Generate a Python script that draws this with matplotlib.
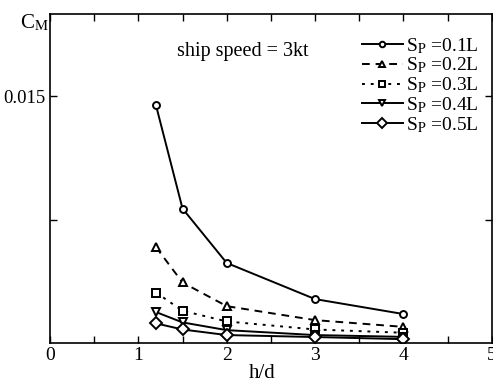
import numpy as np
import matplotlib
matplotlib.use("Agg")
import matplotlib.pyplot as plt

# Datos
h_d = [1.2, 1.5, 2.0, 3.0, 4.0]
cm_01 = [0.01445, 0.00817, 0.00486, 0.00266, 0.00175]
cm_02 = [0.00582, 0.00367, 0.00223, 0.00138, 0.00097]
cm_03 = [0.00306, 0.00195, 0.00130, 0.00081, 0.00061]
cm_04 = [0.00187, 0.00124, 0.00077, 0.00047, 0.00036]
cm_05 = [0.00118, 0.00081, 0.00047, 0.00035, 0.00022]
labels = ["0.1L", "0.2L", "0.3L", "0.4L", "0.5L"]

plt.rcParams['font.family'] = ['Liberation Serif', 'DejaVu Serif']
plt.rcParams['mathtext.fontset'] = 'stix'

fig = plt.figure(figsize=(4.93, 3.83), dpi=100)
ax = fig.add_axes([0.1014, 0.105, 0.896, 0.858])

series = [cm_01, cm_02, cm_03, cm_04, cm_05]
styles = [('-', 'o', 5), ((0, (4, 3)), '^', 6), ((0, (1.5, 3)), 's', 5.5),
          ('-', 'v', 6), ('-', 'D', 6)]
for vals, lab, (ls, mk, ms) in zip(series, labels, styles):
    ax.plot(h_d, vals, linestyle=ls, marker=mk, markersize=ms, color='black',
            markerfacecolor='white', markeredgewidth=1.4, linewidth=1.4,
            label=r"S$_\mathrm{P}$ =" + lab)

ax.set_xlim(0, 5)
ax.set_ylim(0, 0.02)
ax.set_xticks([0, 1, 2, 3, 4, 5])
ax.set_xticks([0.5, 1.5, 2.5, 3.5, 4.5], minor=True)
ax.set_yticks([0.0075, 0.015])
ax.set_yticklabels(['', '0.015'])
ax.tick_params(direction='in', which='both', top=True, right=True, labelsize=14,
               width=1, length=5, pad=3)
ax.tick_params(axis='y', labelsize=13.5)
ax.tick_params(which='minor', length=5)
for s in ax.spines.values():
    s.set_linewidth(1.2)

ax.set_xlabel('h/d', fontsize=15, labelpad=0)
ax.xaxis.set_label_coords(0.48, -0.065)
fig.text(0.04, 0.925, r"C$_\mathrm{M}$", fontsize=15)
ax.text(0.287, 0.873, 'ship speed = 3kt', transform=ax.transAxes, fontsize=14.5)

ax.legend(loc='upper right', bbox_to_anchor=(1.0, 0.972), frameon=False,
          fontsize=14, handlelength=2.1, handletextpad=0.2, labelspacing=0.0,
          borderaxespad=0.25, markerscale=0.8, borderpad=0.4)

plt.savefig('out.png', dpi=100)
